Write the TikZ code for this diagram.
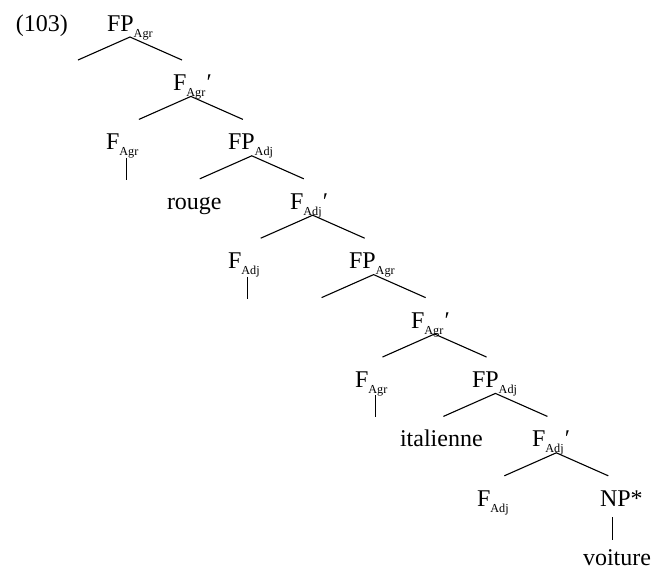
\documentclass[tikz,border=0pt]{standalone}
\usepackage{fontspec}
\setmainfont{Liberation Serif}
\newcommand\sbx[1]{\raisebox{-3pt}{\fontsize{6.1}{7}\selectfont #1}}
\newcommand\prm{\kern0.6pt′}
\begin{document}
\begin{tikzpicture}[x=0.5pt,y=-0.5pt,
  lab/.style={inner sep=0pt,outer sep=0pt,anchor=base west,font=\fontsize{12}{14}\selectfont},
  br/.style={line width=0.55pt}]
\useasboundingbox (0,0) rectangle (651,569);
% labels
\node[lab] (ex) at (16,31) {(103)};
\node[lab] (n0) at (107,31) {FP\sbx{Agr}};
\node[lab] (n1) at (173,90.4) {F\sbx{Agr}\prm};
\node[lab] (n2a) at (106,149.8) {F\sbx{Agr}};
\node[lab] (n2b) at (228,149.8) {FP\sbx{Adj}};
\node[lab] (n3a) at (167,209.2) {rouge};
\node[lab] (n3b) at (290,209.2) {F\sbx{Adj}\prm};
\node[lab] (n4a) at (228,268.6) {F\sbx{Adj}};
\node[lab] (n4b) at (349,268.6) {FP\sbx{Agr}};
\node[lab] (n5) at (411,328) {F\sbx{Agr}\prm};
\node[lab] (n6a) at (355,387.4) {F\sbx{Agr}};
\node[lab] (n6b) at (472,387.4) {FP\sbx{Adj}};
\node[lab] (n7a) at (400,446.8) {italienne};
\node[lab] (n7b) at (532,446.8) {F\sbx{Adj}\prm};
\node[lab] (n8a) at (477,506.2) {F\sbx{Adj}};
\node[lab] (n8b) at (600,506.2) {NP*};
\node[lab] (n9) at (583,565.6) {voiture};
% branch points
\foreach \k in {0,...,7}{
  \coordinate (a\k) at ({130+60.9*\k},{37+59.4*\k});
  \coordinate (l\k) at ({130+60.9*\k-52},{60+59.4*\k});
  \coordinate (r\k) at ({130+60.9*\k+52},{60+59.4*\k});
  \draw[br] (l\k) -- (a\k) -- (r\k);
}
% unary lines
\coordinate (u1t) at (126.5,157.8); \coordinate (u1b) at (126.5,179.8);
\coordinate (u2t) at (247.5,276.6); \coordinate (u2b) at (247.5,298.6);
\coordinate (u3t) at (375.5,395.4); \coordinate (u3b) at (375.5,417.4);
\coordinate (u4t) at (612.5,517); \coordinate (u4b) at (612.5,540);
\draw[br] (u1t) -- (u1b);
\draw[br] (u2t) -- (u2b);
\draw[br] (u3t) -- (u3b);
\draw[br] (u4t) -- (u4b);
\end{tikzpicture}
\end{document}
